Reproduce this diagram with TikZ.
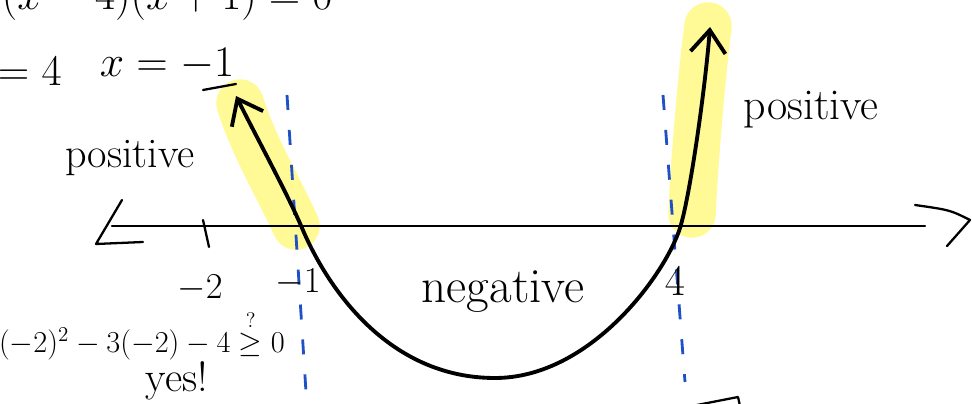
\documentclass[tikz,border=0pt]{standalone}
\usepackage{amsmath,amssymb}
\usetikzlibrary{arrows.meta}
\definecolor{surligneur}{RGB}{255,250,150}
\definecolor{pointille}{RGB}{30,80,200}
\begin{document}
\begin{tikzpicture}[x=0.02cm, y=-0.02cm, >={Straight Barb[length=4.5mm,width=7mm]},
    trait/.style={line width=1.3pt, line cap=round, line join=round},
    courbe/.style={line width=2.2pt, line cap=round, line join=round},
    surligne/.style={surligneur, line width=0.95cm, line cap=round},
    bleu/.style={pointille, line width=1.6pt, dash pattern=on 0.3cm off 0.4cm},
    txt/.style={inner sep=0pt}]
			% Cadre
			\useasboundingbox (0,0) rectangle (972,404);

			% Points clés
			\coordinate (A) at (112,226); % début de l'axe
			\coordinate (B) at (925,226); % fin de l'axe
			\coordinate (M1) at (302,228); % racine -1
			\coordinate (Q) at (680,228); % racine 4
			\coordinate (BAS) at (495,378); % sommet de la parabole
			\coordinate (HG) at (236,96); % pointe gauche
			\coordinate (HD) at (710,27); % pointe droite

			% Surligneur jaune
			\draw[surligne] (240,103) .. controls (255,150) and (280,190) .. (296,226);
			\draw[surligne] (708,26) .. controls (700,90) and (694,170) .. (692,214);

			% Pointillés bleus
			\draw[bleu] (287,95) -- (306,392);
			\draw[bleu] (663,95) -- (685,382);

			% Axe
			\draw[trait] (A) -- (B);
			\draw[trait] (122,200) -- (96,244) -- (143,242); % flèche gauche
			\draw[trait] (915,205) .. controls (950,210) .. (970,220) -- (947,246); % flèche droite
			\draw[trait] (203,220) -- (209,247); % graduation -2

			% La parabole
			\draw[courbe, <->] (HG) .. controls (258,140) and (288,195) .. (M1)
			    .. controls (330,294) and (392,378) .. (BAS)
			    .. controls (590,378) and (665,275) .. (Q)
			    .. controls (690,196) and (705,90) .. (HD);

			% Étiquettes
			\node[txt, font=\fontsize{28}{30}\selectfont, anchor=base east] (eqn) at (333,10) {$(x-4)(x+1)=0$};
			\node[txt, font=\fontsize{24}{26}\selectfont, anchor=east] (x4) at (62,71) {$x=4$};
			\node[txt, font=\fontsize{24}{26}\selectfont] (xm1) at (167,64) {$x=-1$};
			\draw[trait] (203,90) -- (236,84); % soulignement
			\node[txt, font=\fontsize{24}{26}\selectfont] (posG) at (130,158) {positive};
			\node[txt, font=\fontsize{25}{27}\selectfont] (posD) at (811,110) {positive};
			\node[txt, font=\fontsize{28}{30}\selectfont] (neg) at (503,292) {negative};
			\node[txt, font=\fontsize{20}{22}\selectfont] (m2) at (200,288) {$-2$};
			\node[txt, font=\fontsize{20}{22}\selectfont] (m1) at (298,282) {$-1$};
			\node[txt, font=\fontsize{24}{26}\selectfont] (q4) at (675,281) {$4$};
			\node[txt, font=\fontsize{17}{19}\selectfont] (test) at (142,335) {$(-2)^2-3(-2)-4\overset{?}{\geq}0$};
			\node[txt, font=\fontsize{24}{26}\selectfont] (oui) at (177,381) {yes!};

			% Trait en bas à droite
			\draw[trait] (692,406) -- (738,397) -- (740,406);

		\end{tikzpicture}
\end{document}
